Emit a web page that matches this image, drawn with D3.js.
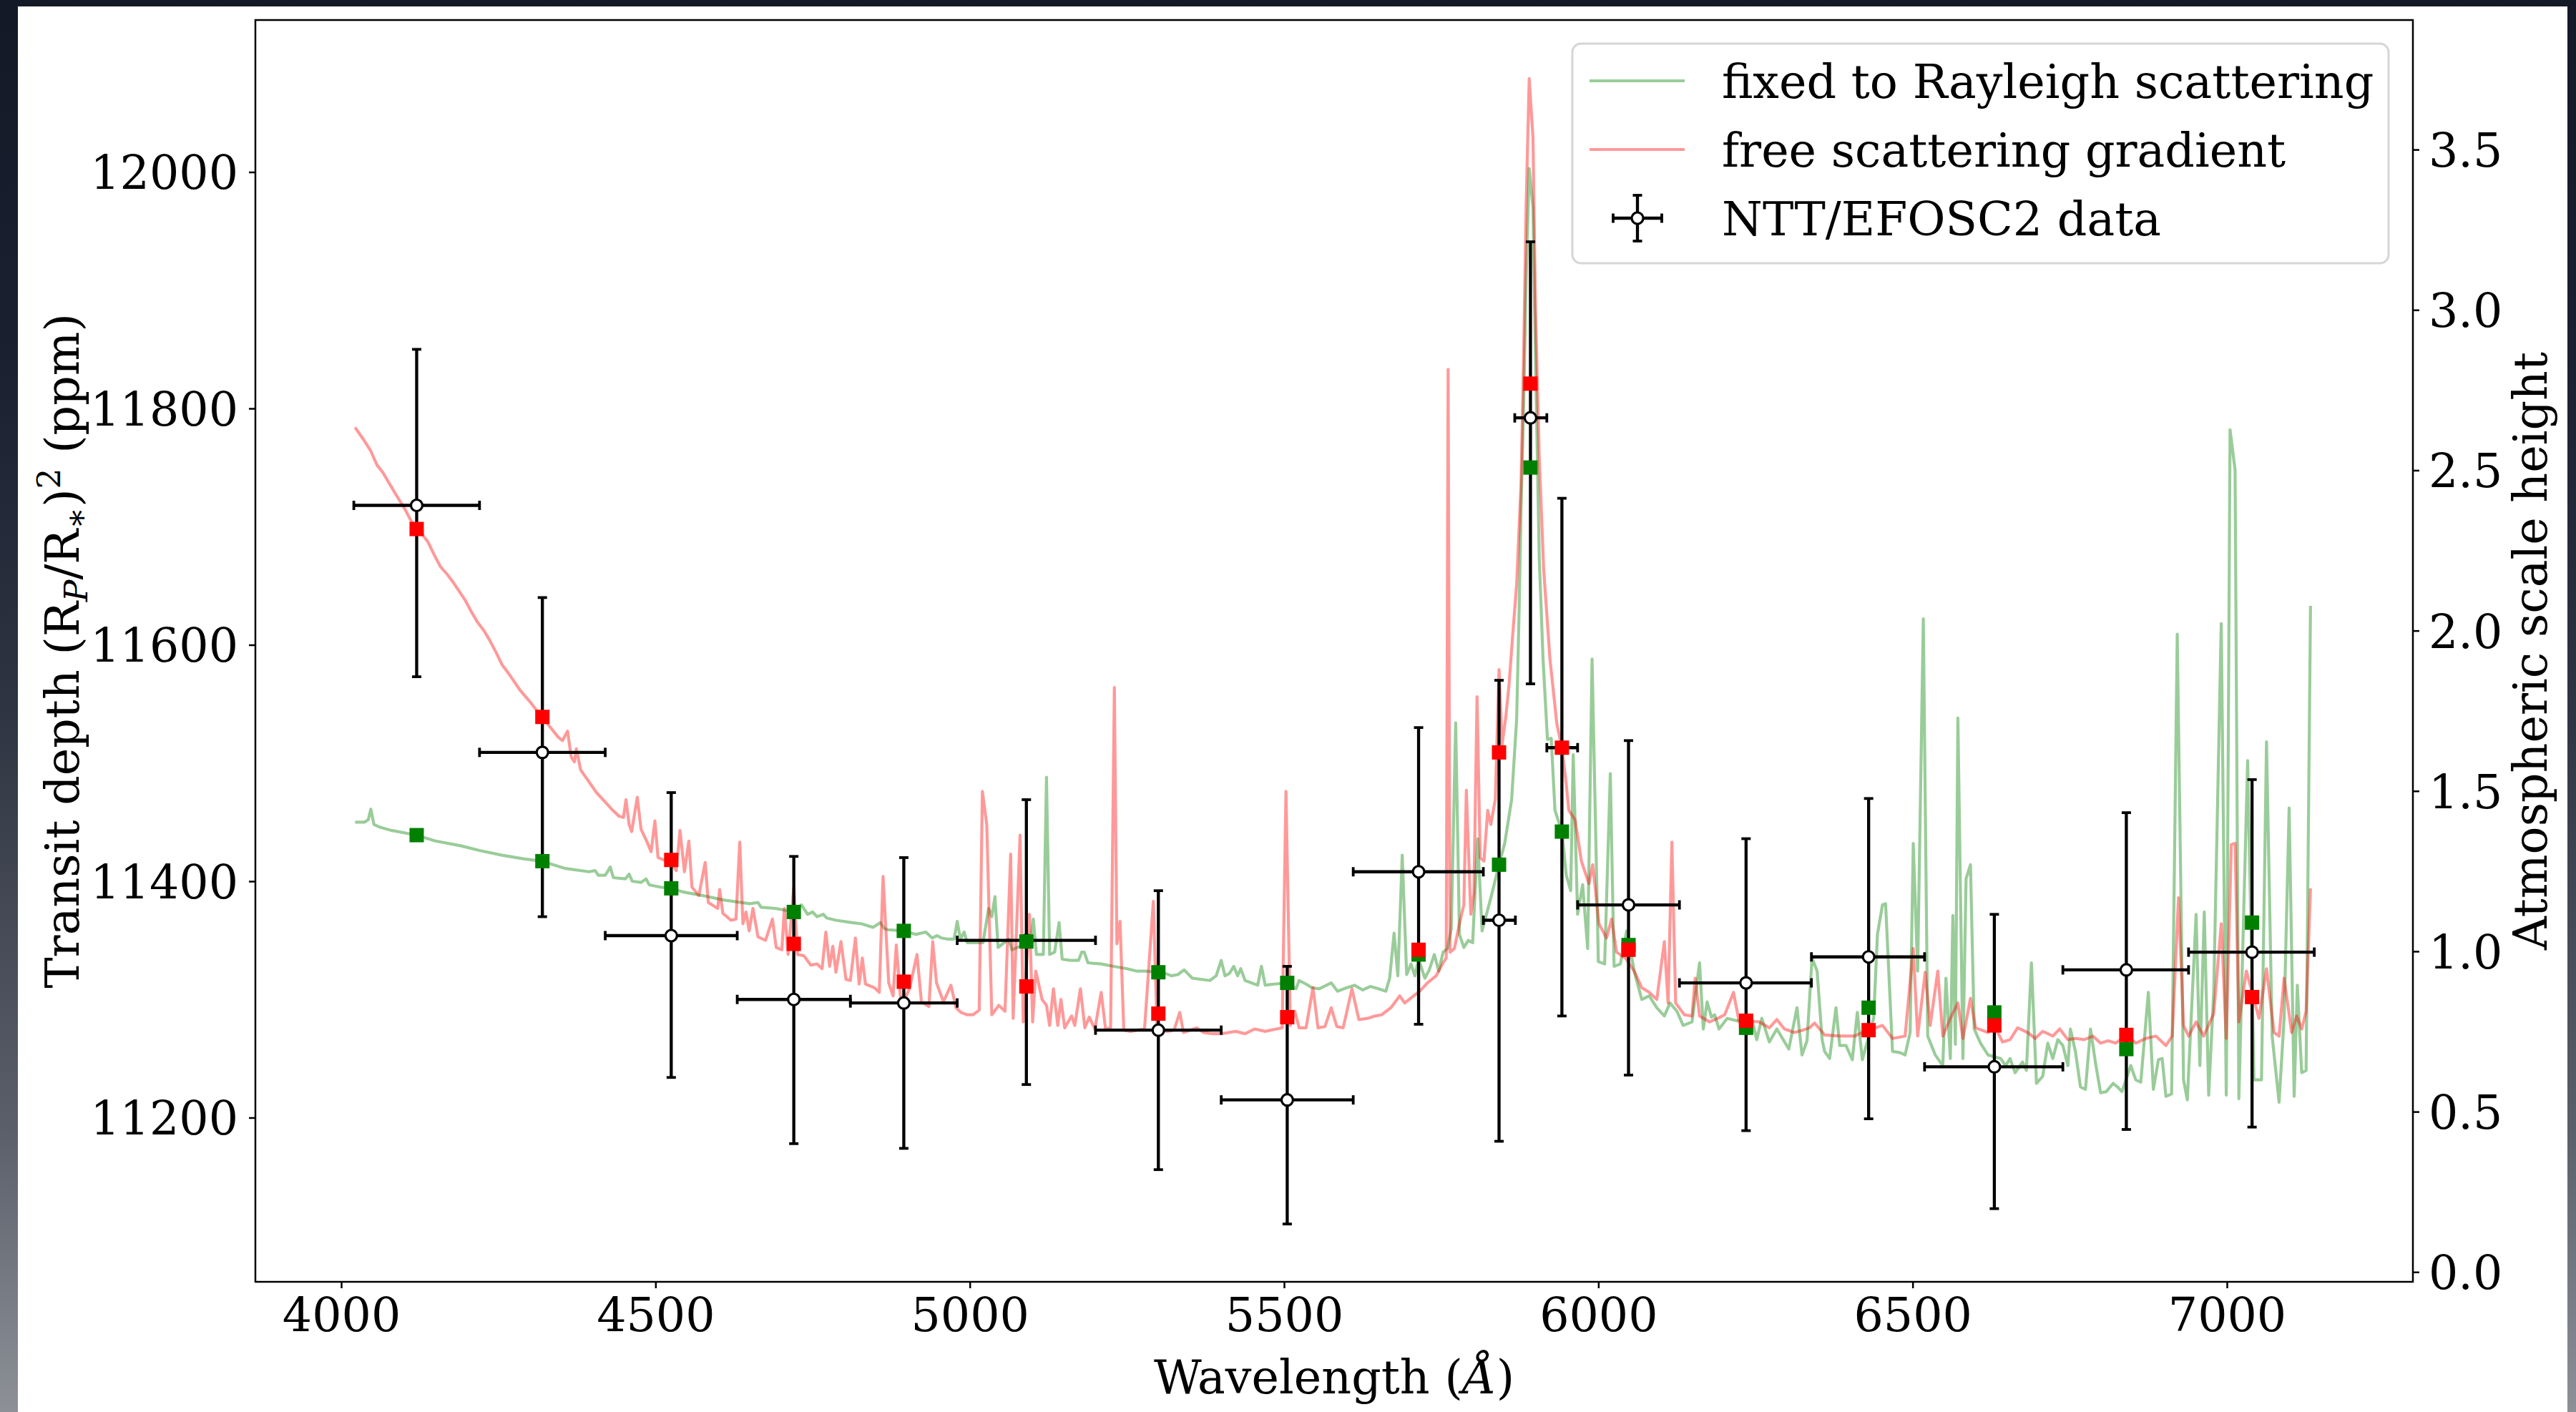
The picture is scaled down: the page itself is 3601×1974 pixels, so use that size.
<!DOCTYPE html>
<html><head><meta charset="utf-8">
<script src="https://cdn.jsdelivr.net/npm/d3@7"></script>
<style>
html,body{margin:0;padding:0;width:3601px;height:1974px;overflow:hidden;
background:linear-gradient(to bottom,#131926 0%,#1a2030 25%,#2e3441 50%,#5a5f6a 80%,#8d9097 100%);}
#card{position:absolute;left:25px;top:9px;width:3564px;height:1965px;background:#fff;}
svg{position:absolute;left:0;top:0;}
</style></head><body><div id="card"></div><svg id="chart" width="3601" height="1974"></svg>
<script>
// ---------------- DATA ----------------
const xTickVals = [4000, 4500, 5000, 5500, 6000, 6500, 7000];
const yTickVals = [11200, 11400, 11600, 11800, 12000];
const y2TickVals = [0.0, 0.5, 1.0, 1.5, 2.0, 2.5, 3.0, 3.5];

// NTT/EFOSC2 binned transmission spectrum
const binCentre = [4120, 4320, 4525, 4720, 4895, 5090, 5300, 5505, 5714, 5842, 5892, 5942, 6048, 6235, 6430, 6630, 6840, 7040];
const binLow    = [4020, 4220, 4420, 4630, 4810, 4980, 5200, 5400, 5610, 5817, 5867, 5918, 5967, 6129, 6339, 6519, 6739, 6939];
const binHigh   = [4220, 4420, 4630, 4810, 4980, 5200, 5400, 5610, 5817, 5868, 5918, 5967, 6129, 6339, 6519, 6739, 6939, 7139];
const depth     = [11718, 11509, 11354, 11300, 11297, 11350, 11274, 11215, 11408, 11367, 11792, 11513, 11380, 11314, 11336, 11243, 11325, 11340];
const errLow    = [145, 139, 120, 122, 123, 122, 118, 105, 129, 187, 225, 227, 144, 125, 137, 120, 135, 148];
const errHigh   = [132, 131, 121, 121, 123, 119, 118, 113, 122, 203, 149, 211, 139, 122, 134, 129, 133, 146];

// binned models
const binFree  = [11698, 11539, 11418, 11347, 11315, 11311, 11288, 11285, 11342, 11509, 11821, 11513, 11342, 11282, 11274, 11278, 11270, 11302];
const binRayl  = [11439, 11417, 11394, 11374, 11358, 11349, 11323, 11314, 11338, 11414, 11750, 11442, 11346, 11276, 11293, 11289, 11258, 11365];

// free scattering gradient model spectrum (wavelength, depth)
const freeWl = [4022,4035,4047,4057,4066,4076,4086,4100,4110,4119,4128,4138,4148,4158,4168,4178,4188,4197,4207,4217,4227,4236,4246,4256,4266,4284,4300,4319,4333,4345,4352,4360,4366,4371,4374,4381,4393,4406,4420,4432,4442,4449,4453,4458,4462,4471,4477,4485,4493,4499,4504,4513,4524,4533,4539,4546,4553,4558,4569,4579,4584,4599,4602,4607,4620,4628,4634,4639,4644,4649,4655,4663,4675,4686,4692,4701,4705,4711,4720,4726,4736,4747,4757,4765,4771,4777,4782,4787,4795,4803,4810,4818,4824,4829,4834,4848,4856,4862,4871,4878,4883,4890,4898,4904,4916,4923,4935,4941,4947,4958,4970,4978,4986,4996,5005,5015,5020,5027,5035,5046,5056,5065,5069,5080,5085,5095,5100,5105,5115,5122,5127,5133,5140,5145,5151,5162,5167,5176,5183,5190,5199,5209,5216,5224,5230,5234,5239,5245,5256,5266,5278,5292,5298,5314,5325,5334,5340,5350,5361,5372,5385,5401,5412,5423,5438,5453,5470,5488,5497,5503,5510,5517,5524,5535,5546,5554,5565,5575,5584,5594,5608,5619,5633,5645,5655,5670,5684,5692,5706,5716,5728,5742,5753,5758,5761,5764,5771,5779,5786,5790,5797,5802,5807,5812,5818,5824,5829,5836,5842,5847,5853,5858,5864,5870,5877,5881,5885,5890,5896,5900,5906,5913,5923,5934,5942,5949,5953,5963,5973,5985,5991,6001,6013,6021,6029,6043,6057,6069,6081,6093,6105,6111,6117,6123,6137,6149,6154,6161,6177,6190,6201,6215,6224,6235,6256,6272,6284,6296,6312,6325,6336,6344,6360,6384,6408,6420,6430,6452,6468,6488,6501,6508,6520,6528,6540,6548,6560,6572,6580,6592,6600,6620,6630,6643,6655,6667,6683,6695,6707,6723,6734,6747,6759,6773,6787,6799,6811,6823,6840,6855,6871,6887,6903,6913,6923,6931,6939,6951,6963,6979,6991,6999,7007,7013,7019,7031,7051,7063,7075,7083,7091,7103,7111,7119,7126,7133];
const freeDepth = [11784,11774,11764,11752,11746,11737,11728,11716,11706,11698,11694,11687,11676,11666,11660,11653,11645,11638,11628,11619,11612,11604,11594,11583,11576,11562,11552,11539,11530,11522,11519,11527,11505,11501,11512,11494,11485,11475,11467,11460,11455,11454,11469,11448,11442,11471,11444,11435,11425,11451,11420,11418,11417,11409,11443,11408,11434,11395,11388,11416,11382,11377,11393,11373,11367,11368,11433,11364,11374,11358,11377,11353,11350,11368,11344,11342,11377,11338,11395,11338,11337,11329,11330,11326,11357,11328,11345,11323,11349,11317,11316,11352,11313,11335,11313,11310,11306,11404,11314,11303,11346,11300,11302,11309,11338,11298,11294,11349,11314,11298,11312,11293,11289,11287,11287,11291,11476,11448,11287,11295,11290,11423,11284,11439,11281,11372,11281,11324,11300,11295,11278,11309,11278,11300,11276,11286,11278,11309,11276,11285,11275,11306,11275,11276,11564,11347,11366,11274,11273,11274,11275,11383,11275,11273,11274,11289,11272,11274,11276,11272,11271,11271,11272,11273,11271,11275,11273,11275,11276,11476,11278,11290,11276,11276,11310,11276,11277,11293,11277,11276,11309,11283,11284,11286,11287,11293,11303,11297,11303,11307,11314,11320,11331,11335,11833,11340,11343,11364,11380,11477,11372,11390,11556,11420,11417,11460,11448,11469,11579,11516,11540,11567,11610,11651,11736,11842,11970,12079,12029,11885,11758,11664,11588,11533,11513,11482,11460,11452,11417,11398,11414,11364,11352,11368,11340,11335,11324,11310,11306,11300,11349,11297,11433,11297,11287,11286,11318,11286,11281,11284,11287,11306,11281,11282,11281,11276,11283,11275,11272,11274,11276,11280,11270,11269,11269,11272,11274,11278,11267,11269,11343,11269,11323,11278,11324,11269,11284,11297,11267,11301,11276,11272,11278,11264,11266,11276,11272,11267,11273,11269,11275,11266,11267,11266,11269,11263,11265,11263,11270,11263,11267,11269,11261,11269,11386,11278,11269,11281,11269,11288,11364,11267,11431,11432,11281,11324,11284,11326,11272,11269,11318,11272,11286,11275,11290,11394];

// fixed to Rayleigh scattering model spectrum (wavelength, depth)
const raylWl = [4022,4030,4037,4043,4047,4052,4060,4080,4100,4119,4150,4190,4220,4256,4290,4319,4355,4394,4404,4409,4420,4428,4433,4452,4458,4463,4477,4485,4490,4508,4525,4543,4574,4609,4650,4663,4668,4691,4720,4732,4742,4750,4757,4767,4772,4787,4813,4828,4846,4858,4864,4869,4895,4914,4930,4940,4948,4955,4965,4975,4980,4985,4991,4996,5021,5030,5035,5040,5045,5062,5067,5080,5090,5096,5101,5106,5117,5122,5127,5135,5142,5147,5160,5173,5178,5182,5188,5209,5229,5250,5265,5280,5300,5311,5321,5331,5341,5354,5382,5392,5400,5406,5413,5420,5426,5431,5438,5458,5464,5470,5485,5505,5519,5524,5535,5544,5556,5575,5585,5600,5612,5625,5637,5650,5662,5668,5675,5681,5688,5695,5702,5708,5714,5724,5731,5739,5746,5753,5760,5766,5773,5779,5786,5793,5800,5808,5815,5829,5842,5851,5862,5870,5874,5877,5881,5885,5890,5896,5900,5906,5912,5919,5925,5931,5942,5949,5956,5960,5967,5975,5983,5990,6000,6010,6019,6025,6035,6045,6050,6057,6069,6081,6093,6105,6114,6125,6135,6149,6161,6167,6173,6180,6185,6192,6205,6220,6244,6252,6260,6272,6284,6303,6316,6324,6332,6340,6348,6356,6360,6368,6378,6384,6394,6404,6412,6420,6438,6444,6452,6457,6468,6480,6488,6496,6501,6508,6517,6524,6536,6548,6553,6560,6564,6568,6572,6580,6585,6592,6598,6608,6620,6640,6648,6655,6663,6675,6681,6689,6697,6707,6715,6723,6731,6739,6747,6751,6759,6767,6775,6783,6791,6799,6808,6819,6826,6833,6847,6855,6863,6875,6883,6891,6897,6903,6912,6921,6931,6937,6951,6957,6964,6971,6979,6991,6999,7005,7013,7019,7033,7043,7055,7063,7072,7083,7091,7099,7107,7112,7119,7126,7133];
const raylDepth = [11450,11450,11450,11452,11461,11448,11446,11443,11441,11439,11434,11430,11426,11422,11419,11417,11411,11408,11409,11405,11405,11412,11403,11402,11406,11400,11399,11402,11397,11395,11394,11391,11388,11384,11381,11382,11378,11377,11374,11380,11372,11374,11370,11372,11369,11367,11365,11364,11361,11365,11360,11359,11358,11355,11357,11352,11354,11352,11351,11351,11366,11351,11357,11348,11348,11377,11370,11387,11344,11351,11342,11345,11349,11345,11368,11338,11338,11488,11338,11340,11365,11334,11333,11333,11340,11340,11331,11330,11328,11326,11324,11324,11323,11322,11320,11321,11325,11318,11316,11320,11333,11320,11322,11328,11320,11326,11316,11312,11328,11312,11313,11314,11309,11316,11313,11310,11309,11314,11307,11310,11312,11308,11311,11309,11307,11318,11356,11320,11422,11321,11330,11320,11334,11318,11325,11338,11324,11340,11343,11360,11534,11355,11344,11350,11348,11436,11358,11386,11414,11432,11469,11537,11630,11715,11800,11906,12003,11970,11842,11673,11588,11520,11521,11460,11442,11405,11392,11507,11372,11397,11343,11588,11332,11330,11491,11328,11330,11358,11345,11324,11300,11303,11293,11286,11297,11290,11278,11281,11331,11275,11298,11285,11287,11275,11284,11282,11284,11266,11284,11264,11275,11258,11293,11253,11265,11335,11324,11266,11256,11250,11293,11261,11261,11249,11289,11249,11284,11355,11380,11381,11256,11255,11253,11272,11432,11324,11622,11269,11253,11244,11318,11250,11371,11262,11538,11250,11402,11414,11275,11263,11253,11250,11244,11250,11238,11247,11240,11331,11229,11235,11263,11250,11266,11261,11244,11275,11256,11226,11224,11275,11246,11221,11222,11229,11226,11222,11244,11232,11230,11306,11224,11249,11250,11218,11220,11609,11232,11215,11372,11244,11374,11219,11306,11618,11219,11782,11748,11216,11502,11232,11232,11518,11269,11213,11284,11462,11218,11312,11238,11240,11633];

// ---------------- LAYOUT ----------------
const W = 3601, H = 1974;
const M = {left: 357, right: 3373, top: 28, bottom: 1792};
const FONT = "'DejaVu Serif', serif";
const FS = 65;

const svg = d3.select('#chart');
const x = d3.scaleLinear().domain([3863.4, 7295.9]).range([M.left, M.right]);
const y = d3.scaleLinear().domain([11061.1, 12128.6]).range([M.bottom, M.top]);
const y2 = d3.scaleLinear().domain([-0.0306, 3.904]).range([M.bottom, M.top]);

svg.append('defs').append('clipPath').attr('id', 'plotclip')
  .append('rect').attr('x', M.left).attr('y', M.top)
  .attr('width', M.right - M.left).attr('height', M.bottom - M.top);

const plot = svg.append('g').attr('clip-path', 'url(#plotclip)');

const LW = 4.2;
const line = d3.line().x(d => x(d[0])).y(d => y(d[1]));
const raylPts = raylWl.map((w, i) => [w, raylDepth[i]]);
const freePts = freeWl.map((w, i) => [w, freeDepth[i]]);

plot.append('path').datum(raylPts).attr('d', line)
  .attr('fill', 'none').attr('stroke', '#008000').attr('stroke-opacity', 0.4)
  .attr('stroke-width', LW).attr('stroke-linejoin', 'round');
plot.append('path').datum(freePts).attr('d', line)
  .attr('fill', 'none').attr('stroke', '#ff0000').attr('stroke-opacity', 0.4)
  .attr('stroke-width', LW).attr('stroke-linejoin', 'round');

// error bars
const EBW = 4.3;
const eb = plot.append('g').attr('stroke', '#000').attr('stroke-width', EBW);
const CAP = 6.5;
binCentre.forEach((c, i) => {
  const cx = x(c), cy = y(depth[i]);
  const x0 = x(binLow[i]), x1 = x(binHigh[i]);
  const yT = y(depth[i] + errHigh[i]), yB = y(depth[i] - errLow[i]);
  eb.append('line').attr('x1', x0).attr('x2', x1).attr('y1', cy).attr('y2', cy);
  eb.append('line').attr('x1', cx).attr('x2', cx).attr('y1', yT).attr('y2', yB);
  eb.append('line').attr('x1', x0).attr('x2', x0).attr('y1', cy - CAP).attr('y2', cy + CAP).attr('stroke-width', 3.8);
  eb.append('line').attr('x1', x1).attr('x2', x1).attr('y1', cy - CAP).attr('y2', cy + CAP).attr('stroke-width', 3.8);
  eb.append('line').attr('x1', cx - CAP).attr('x2', cx + CAP).attr('y1', yT).attr('y2', yT).attr('stroke-width', 3.8);
  eb.append('line').attr('x1', cx - CAP).attr('x2', cx + CAP).attr('y1', yB).attr('y2', yB).attr('stroke-width', 3.8);
});
plot.append('g').selectAll('circle').data(binCentre).join('circle')
  .attr('cx', d => x(d)).attr('cy', (d, i) => y(depth[i])).attr('r', 8)
  .attr('fill', '#fff').attr('stroke', '#000').attr('stroke-width', 3.2);

const SQ = 20;
plot.append('g').selectAll('rect').data(binCentre).join('rect')
  .attr('x', d => x(d) - SQ / 2).attr('y', (d, i) => y(binRayl[i]) - SQ / 2)
  .attr('width', SQ).attr('height', SQ).attr('fill', '#008000');
plot.append('g').selectAll('rect').data(binCentre).join('rect')
  .attr('x', d => x(d) - SQ / 2).attr('y', (d, i) => y(binFree[i]) - SQ / 2)
  .attr('width', SQ).attr('height', SQ).attr('fill', '#ff0000');

// ---------------- AXES ----------------
function styleAxis(g) {
  g.select('.domain').remove();
  g.attr('font-family', FONT).attr('font-size', FS);
  g.selectAll('.tick line').attr('stroke', '#000').attr('stroke-width', 2.5);
  g.selectAll('.tick text').attr('fill', '#000');
}
svg.append('g').attr('transform', `translate(0,${M.bottom})`)
  .call(d3.axisBottom(x).tickValues(xTickVals).tickSize(9).tickPadding(14).tickFormat(d3.format('d')))
  .call(styleAxis);
const gl = svg.append('g').attr('transform', `translate(${M.left},0)`)
  .call(d3.axisLeft(y).tickValues(yTickVals).tickSize(9).tickPadding(15).tickFormat(d3.format('d')))
  .call(styleAxis);
gl.selectAll('.tick text').attr('dy', '0.36em');
const gr = svg.append('g').attr('transform', `translate(${M.right},0)`)
  .call(d3.axisRight(y2).tickValues(y2TickVals).tickSize(9).tickPadding(13).tickFormat(d3.format('.1f')))
  .call(styleAxis);
gr.selectAll('.tick text').attr('dy', '0.36em');

svg.append('rect').attr('x', M.left).attr('y', M.top)
  .attr('width', M.right - M.left).attr('height', M.bottom - M.top)
  .attr('fill', 'none').attr('stroke', '#000').attr('stroke-width', 2.5);

// axis labels
const xl = svg.append('text').attr('x', (M.left + M.right) / 2).attr('y', 1948)
  .attr('text-anchor', 'middle').attr('font-family', FONT).attr('font-size', FS).attr('fill', '#000');
xl.append('tspan').text('Wavelength (');
xl.append('tspan').attr('font-style', 'italic').text('Å');
xl.append('tspan').text(')');

const ylab = svg.append('text').attr('transform', `translate(110,${(M.top + M.bottom) / 2}) rotate(-90)`)
  .attr('text-anchor', 'middle').attr('font-family', FONT).attr('font-size', FS).attr('fill', '#000');
ylab.append('tspan').text('Transit depth (R');
ylab.append('tspan').attr('font-style', 'italic').attr('font-size', FS * 0.7).attr('dy', 12).text('P');
ylab.append('tspan').attr('dy', -12).text('/R');
ylab.append('tspan').attr('font-size', FS * 0.7).attr('dy', 12).text('∗');
ylab.append('tspan').attr('dy', -12).text(')');
ylab.append('tspan').attr('font-size', FS * 0.7).attr('dy', -26).text('2');
ylab.append('tspan').attr('dy', 26).text(' (ppm)');

svg.append('text').attr('transform', `translate(3560,${(M.top + M.bottom) / 2}) rotate(-90)`)
  .attr('text-anchor', 'middle').attr('font-family', FONT).attr('font-size', FS).attr('fill', '#000')
  .text('Atmospheric scale height');

// ---------------- LEGEND ----------------
const lg = svg.append('g');
lg.append('rect').attr('x', 2198).attr('y', 61).attr('width', 1141).attr('height', 307).attr('rx', 12)
  .attr('fill', '#fff').attr('fill-opacity', 0.8).attr('stroke', '#d6d6d6').attr('stroke-width', 3);
const legendItems = ['fixed to Rayleigh scattering', 'free scattering gradient', 'NTT/EFOSC2 data'];
const rowY = [113, 209, 305];
lg.append('line').attr('x1', 2222).attr('x2', 2355).attr('y1', rowY[0]).attr('y2', rowY[0])
  .attr('stroke', '#008000').attr('stroke-opacity', 0.4).attr('stroke-width', LW);
lg.append('line').attr('x1', 2222).attr('x2', 2355).attr('y1', rowY[1]).attr('y2', rowY[1])
  .attr('stroke', '#ff0000').attr('stroke-opacity', 0.4).attr('stroke-width', LW);
const hx = 2289, hy = rowY[2];
const lh = lg.append('g').attr('stroke', '#000').attr('stroke-width', EBW);
lh.append('line').attr('x1', hx - 34).attr('x2', hx + 34).attr('y1', hy).attr('y2', hy);
lh.append('line').attr('x1', hx).attr('x2', hx).attr('y1', hy - 32).attr('y2', hy + 32);
lh.append('line').attr('x1', hx - 34).attr('x2', hx - 34).attr('y1', hy - CAP).attr('y2', hy + CAP).attr('stroke-width', 3.8);
lh.append('line').attr('x1', hx + 34).attr('x2', hx + 34).attr('y1', hy - CAP).attr('y2', hy + CAP).attr('stroke-width', 3.8);
lh.append('line').attr('x1', hx - CAP).attr('x2', hx + CAP).attr('y1', hy - 32).attr('y2', hy - 32).attr('stroke-width', 3.8);
lh.append('line').attr('x1', hx - CAP).attr('x2', hx + CAP).attr('y1', hy + 32).attr('y2', hy + 32).attr('stroke-width', 3.8);
lg.append('circle').attr('cx', hx).attr('cy', hy).attr('r', 8).attr('fill', '#fff').attr('stroke', '#000').attr('stroke-width', 3.2);
lg.selectAll('text.leg').data(legendItems).join('text').attr('class', 'leg')
  .attr('x', 2407).attr('y', (d, i) => rowY[i] + 23.5)
  .attr('font-family', FONT).attr('font-size', FS).attr('fill', '#000').text(d => d);
</script></body></html>
